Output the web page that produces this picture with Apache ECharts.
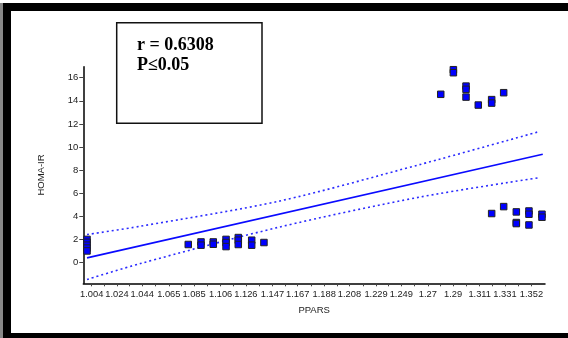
<!DOCTYPE html>
<html><head><meta charset="utf-8">
<script src="https://cdn.jsdelivr.net/npm/echarts@6/dist/echarts.min.js"></script>
<style>
html,body{margin:0;padding:0;background:#fff;}
#fr{position:absolute;left:3px;top:3px;width:565px;height:335px;background:#000;}
#gl{position:absolute;left:0;top:3px;width:3px;height:335px;background:#888;}
#in{position:absolute;left:11px;top:11px;width:557px;height:322px;background:#fff;}
#c{position:absolute;left:0;top:0;width:568px;height:338px;}
</style>
</head><body>
<div id="gl"></div><div id="fr"></div><div id="in"></div>
<div id="c"></div>
<script>
// ---- data ----
const xTickLabels = ['1.004','1.024','1.044','1.065','1.085','1.106','1.126','1.147','1.167','1.188','1.208','1.229','1.249','1.27','1.29','1.311','1.331','1.352'];
const yTickLabels = ['0','2','4','6','8','10','12','14','16'];
const pointsX = [
  1.0003,1.0003,1.0003,1.0003,1.0003,
  1.0804,1.0905,1.0905,1.1002,1.1002,1.1103,1.1103,1.1103,1.12,1.12,1.12,1.1306,1.1306,1.1403,
  1.2802,1.2902,1.2902,1.3002,1.3002,1.3002,1.3099,1.3205,1.3205,1.33,
  1.3205,1.33,1.34,1.34,1.34,1.35,1.35,1.35,1.3603,1.3603
];
const pointsY = [
  2.0,1.75,1.5,1.25,1.0,
  1.56,1.78,1.5,1.78,1.58,2.0,1.73,1.38,2.16,1.93,1.56,1.93,1.5,1.73,
  14.56,16.69,16.43,15.27,14.99,14.32,13.63,14.1,13.8,14.7,
  4.24,4.84,4.38,3.46,3.37,4.46,4.18,3.25,4.18,3.92
];
const fitX = [1.0003, 1.3609];
const fitY = [0.4, 9.37];
const bandX = [1.0003, 1.0425, 1.153, 1.264, 1.357];
const bandUpper = [2.42, 3.14, 5.33, 8.49, 11.3];
const bandLower = [-1.47, -0.09, 3.08, 5.67, 7.32];
const statsLines = ['r = 0.6308', 'P\u22640.05'];
const xName = 'PPARS';
const yName = 'HOMA-IR';

// ---- build ----
const xTickVals = xTickLabels.map(Number);
const xMinor = [];
for (let i = 0; i < xTickVals.length - 1; i++) xMinor.push((xTickVals[i] + xTickVals[i+1]) / 2);
const xAllTicks = xTickVals.concat(xMinor);
const yTickVals = yTickLabels.map(Number);

const zip = (a, b) => a.map((v, i) => [v, b[i]]);

const chart = echarts.init(document.getElementById('c'), null, {renderer: 'canvas'});
chart.setOption({
  animation: false,
  backgroundColor: 'transparent',
  grid: {left: 83.3, right: 23, top: 66.7, bottom: 54.7, containLabel: false},
  xAxis: {
    type: 'value', min: 0.99735, max: 1.3627,
    name: xName, nameLocation: 'middle', nameGap: 22,
    nameTextStyle: {fontFamily: 'Liberation Sans', fontSize: 9.5, color: '#222'},
    axisLine: {show: true, onZero: false, lineStyle: {color: '#000', width: 1.5}},
    axisTick: {show: true, customValues: xAllTicks, length: 3, lineStyle: {color: '#444', width: 1}},
    axisLabel: {
      customValues: xTickVals, margin: 7,
      fontFamily: 'Liberation Sans', fontSize: 9.3, color: '#222',
      formatter: v => { const i = xTickVals.findIndex(t => Math.abs(t - v) < 1e-6); return i >= 0 ? xTickLabels[i] : ''; }
    },
    splitLine: {show: false}
  },
  yAxis: {
    type: 'value', min: -1.8, max: 16.95,
    name: yName, nameLocation: 'middle', nameGap: 37, nameRotate: 90,
    nameTextStyle: {fontFamily: 'Liberation Sans', fontSize: 9.5, color: '#222'},
    axisLine: {show: true, onZero: false, lineStyle: {color: '#000', width: 1.5}},
    axisTick: {show: true, customValues: yTickVals, length: 4, lineStyle: {color: '#444', width: 1}},
    axisLabel: {customValues: yTickVals, margin: 5, fontFamily: 'Liberation Sans', fontSize: 9.5, color: '#222',
      formatter: v => { const i = yTickVals.findIndex(t => Math.abs(t - v) < 1e-6); return i >= 0 ? yTickLabels[i] : ''; }},
    splitLine: {show: false}
  },
  series: [
    {type: 'line', data: zip(bandX, bandUpper), showSymbol: false, smooth: 0.3, z: 3,
     lineStyle: {color: '#2b2bff', width: 1.6, type: [2, 3]}},
    {type: 'line', data: zip(bandX, bandLower), showSymbol: false, smooth: 0.3, z: 3,
     lineStyle: {color: '#2b2bff', width: 1.6, type: [2, 3]}},
    {type: 'line', data: zip(fitX, fitY), showSymbol: false, z: 4,
     lineStyle: {color: '#0a0aff', width: 1.7}},
    {type: 'scatter', data: zip(pointsX, pointsY), symbol: 'rect', symbolSize: 6.5, z: 5,
     itemStyle: {color: '#0000ff', borderColor: '#222', borderWidth: 1, opacity: 1}}
  ],
  graphic: [
    {type: 'rect', shape: {x: 116.7, y: 22.7, width: 145.3, height: 100.6}, z: 10,
     style: {fill: '#fff', stroke: '#111', lineWidth: 1.5}},
    {type: 'text', x: 137, y: 45.5, z: 11,
     style: {text: statsLines[0], font: 'bold 18px "Liberation Serif"', fill: '#000', verticalAlign: 'middle', align: 'left'}},
    {type: 'text', x: 137, y: 65.7, z: 11,
     style: {text: statsLines[1], font: 'bold 18px "Liberation Serif"', fill: '#000', verticalAlign: 'middle', align: 'left'}}
  ]
});
</script>
</body></html>
